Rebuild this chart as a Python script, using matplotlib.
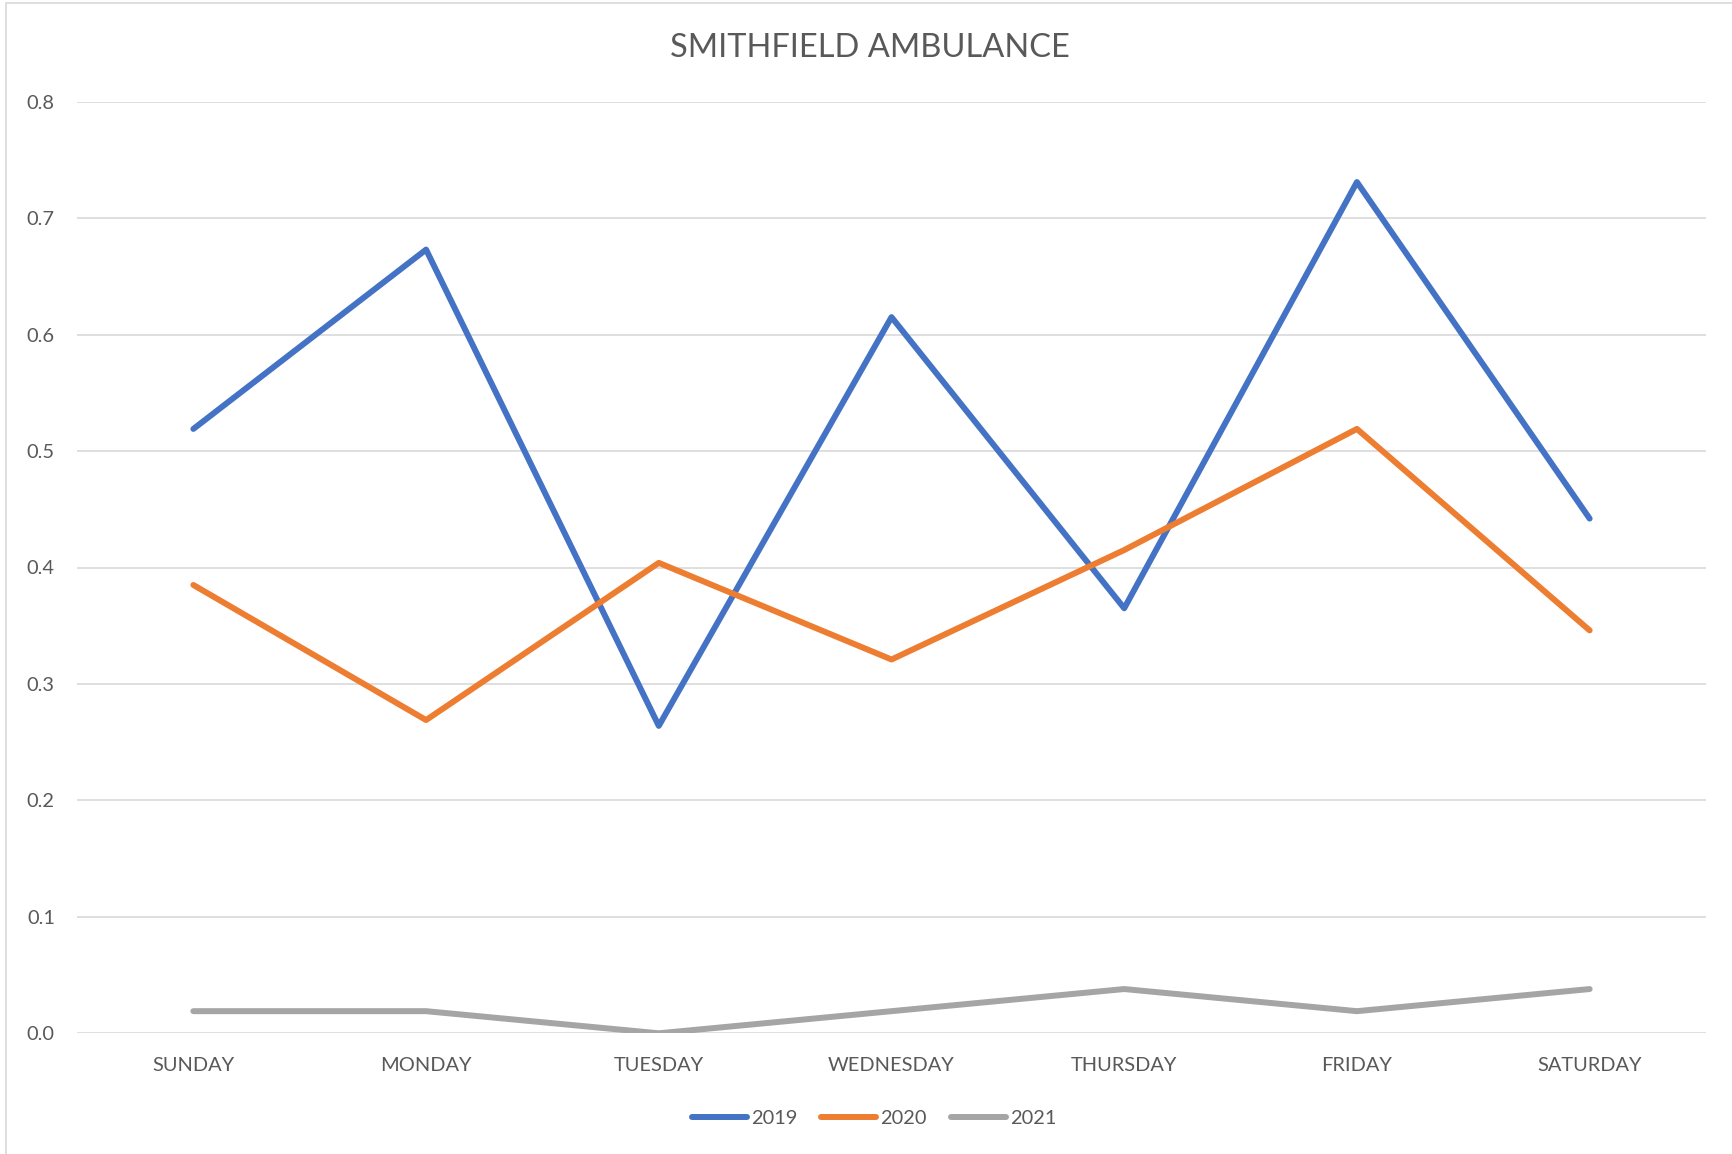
import matplotlib.pyplot as plt
from matplotlib.patches import Rectangle

# weekday categories and the share for each year
days = ["SUNDAY", "MONDAY", "TUESDAY", "WEDNESDAY", "THURSDAY", "FRIDAY", "SATURDAY"]
y2019 = [0.519, 0.673, 0.264, 0.615, 0.365, 0.731, 0.442]
y2020 = [0.385, 0.269, 0.404, 0.321, 0.415, 0.519, 0.346]
y2021 = [0.019, 0.019, 0.0, 0.019, 0.038, 0.019, 0.038]
years = ["2019", "2020", "2021"]
yticks = [0.0, 0.1, 0.2, 0.3, 0.4, 0.5, 0.6, 0.7, 0.8]

colors = ["#4472C4", "#ED7D31", "#A5A5A5"]
text_col = "#595959"
grid_col = "#D9D9D9"

plt.rcParams['font.family'] = ['Lato', 'DejaVu Sans']

fig = plt.figure(figsize=(17.32, 11.54), dpi=100)
W, H = 1732, 1154
ax = fig.add_axes([77 / W, 1 - 1033.3 / H, (1706 - 77) / W, (1033.3 - 101.7) / H])

# chart border (runs off the right and bottom of the picture)
fig.patches.append(Rectangle((5.7 / W, -0.1), 1.2, 1.1 - 3.3 / H, transform=fig.transFigure,
                             fill=False, edgecolor=grid_col, linewidth=1.2))

x = list(range(len(days)))
for vals, name, c in zip([y2019, y2020, y2021], years, colors):
    ax.plot(x, vals, color=c, linewidth=4.3, label=name,
            solid_capstyle='round', solid_joinstyle='round', zorder=3)

ax.set_xlim(-0.5, len(days) - 0.5)
ax.set_ylim(0, 0.8)
ax.set_yticks(yticks)
ax.set_yticklabels([f"{v:.1f}" for v in yticks])
ax.set_xticks(x)
ax.set_xticklabels(days)
ax.grid(axis='y', color=grid_col, linewidth=1.2)
ax.set_axisbelow(True)
for s in ax.spines.values():
    s.set_visible(False)
ax.tick_params(axis='both', length=0, colors=text_col, labelsize=14.4)
ax.tick_params(axis='y', pad=16)
ax.tick_params(axis='x', pad=17)

fig.text(870 / W, 1 - 48 / H, "SMITHFIELD AMBULANCE", ha='center', va='center',
         fontsize=23.5, color=text_col)

fig.legend(loc='center', bbox_to_anchor=(874 / W, 1 - 1118 / H), ncol=3, frameon=False,
           fontsize=14.4, labelcolor=text_col, handlelength=2.75, handletextpad=0.2,
           columnspacing=1.2)

fig.savefig("out.png", dpi=100)
